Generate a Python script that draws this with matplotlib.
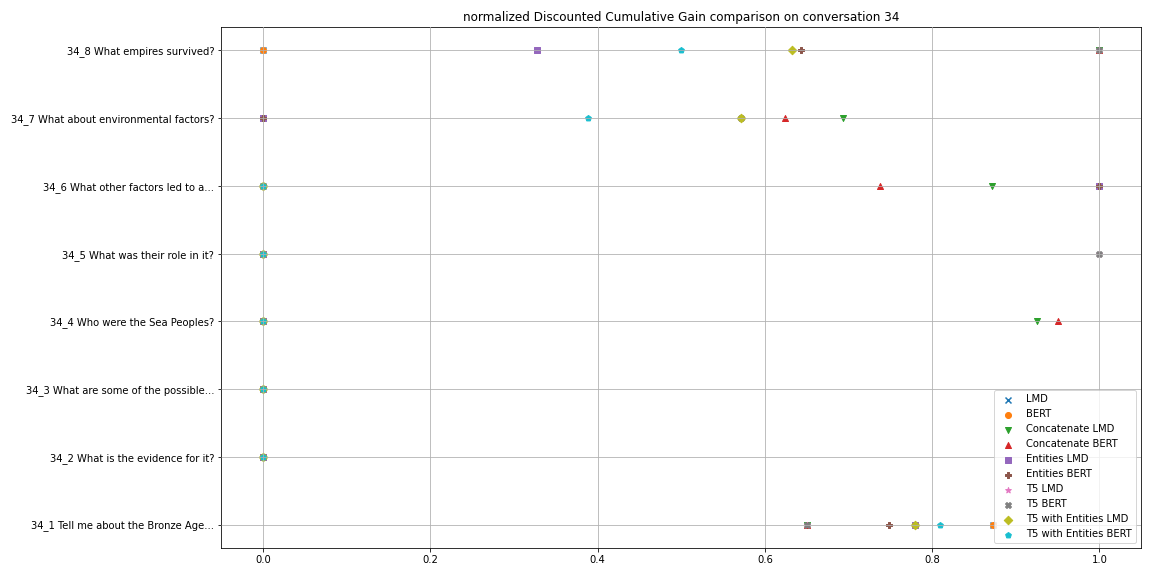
import numpy as np
import matplotlib
matplotlib.use("Agg")
import matplotlib.pyplot as plt

questions = ['34_1 Tell me about the Bronze Age...',
             '34_2 What is the evidence for it?',
             '34_3 What are some of the possible...',
             '34_4 Who were the Sea Peoples?',
             '34_5 What was their role in it?',
             '34_6 What other factors led to a...',
             '34_7 What about environmental factors?',
             '34_8 What empires survived?']

methods = ['LMD', 'BERT', 'Concatenate LMD', 'Concatenate BERT', 'Entities LMD',
           'Entities BERT', 'T5 LMD', 'T5 BERT', 'T5 with Entities LMD',
           'T5 with Entities BERT']
markers = ['x', 'o', 'v', '^', 's', 'P', '*', 'X', 'D', 'p']

# nDCG per question (34_1 .. 34_8) for each method
lmd            = [0.873, 0, 0, 0, 0, 0, 0, 0]
bert           = [0.873, 0, 0, 0, 0, 0, 0, 0]
concat_lmd     = [0.650, 0, 0, 0.925, 0, 0.871, 0.694, 1.0]
concat_bert    = [0.650, 0, 0, 0.951, 0, 0.738, 0.624, 1.0]
entities_lmd   = [0.780, 0, 0, 0, 0, 1.0, 0, 0.328]
entities_bert  = [0.748, 0, 0, 0, 0, 1.0, 0, 0.643]
t5_lmd         = [0.650, 0, 0, 0, 1.0, 0, 0.571, 1.0]
t5_bert        = [0.650, 0, 0, 0, 1.0, 0, 0.571, 1.0]
t5_ent_lmd     = [0.780, 0, 0, 0, 0, 0, 0.571, 0.632]
t5_ent_bert    = [0.809, 0, 0, 0, 0, 0, 0.388, 0.500]

scores = [lmd, bert, concat_lmd, concat_bert, entities_lmd, entities_bert,
          t5_lmd, t5_bert, t5_ent_lmd, t5_ent_bert]

fig, ax = plt.subplots(figsize=(16, 8), dpi=72)
for i, name in enumerate(methods):
    ax.scatter(scores[i], questions, marker=markers[i], label=name)

ax.set_title('normalized Discounted Cumulative Gain comparison on conversation 34')
ax.grid(True)
ax.set_axisbelow(False)
ax.legend(loc='lower right')
plt.tight_layout()
plt.savefig('out.png')
